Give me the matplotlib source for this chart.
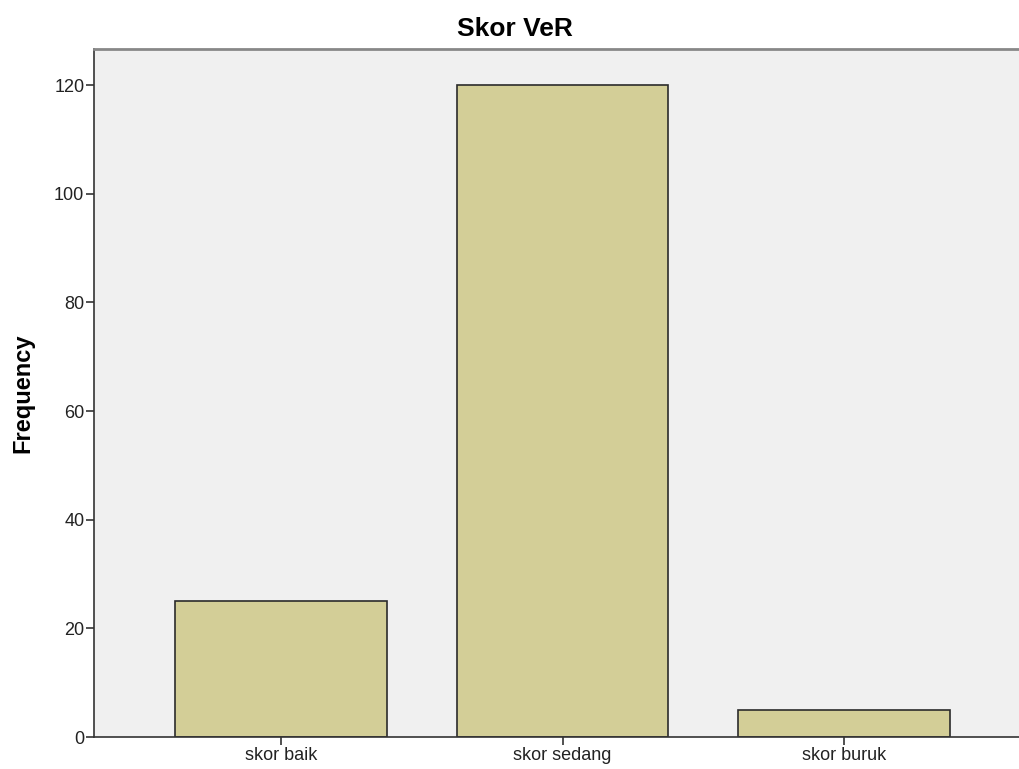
import matplotlib
matplotlib.use("Agg")
import matplotlib.pyplot as plt

categories = ["skor baik", "skor sedang", "skor buruk"]
frequency = [25, 120, 5]
yticks = [0, 20, 40, 60, 80, 100, 120]

plt.rcParams['font.family'] = ['Liberation Sans', 'DejaVu Sans']

fig = plt.figure(figsize=(10.2, 7.69), dpi=100)
ax = fig.add_axes([0.0922, 0.0416, 0.9078, 0.8944])
ax.set_facecolor('#F0F0F0')

x = list(range(len(categories)))
ax.bar(x, frequency, width=0.75, color='#D3CE97', edgecolor='#2b2b2b', linewidth=1.2, zorder=2)

ax.set_xlim(-0.664, 2.625)
ax.set_ylim(0, 126.6)
ax.set_xticks(x)
ax.set_xticklabels(categories, fontsize=13, color='#222222')
ax.set_yticks(yticks)
ax.set_yticklabels([str(v) for v in yticks], fontsize=13, color='#222222')
ax.tick_params(axis='both', direction='out', length=6, width=1.2, color='#333333', pad=1)

ax.spines['right'].set_visible(False)
ax.spines['top'].set_color('#888888')
ax.spines['top'].set_linewidth(2)
ax.spines['left'].set_color('#333333')
ax.spines['bottom'].set_color('#333333')
ax.spines['left'].set_linewidth(1.2)
ax.spines['bottom'].set_linewidth(1.2)

ax.set_ylabel("Frequency", fontsize=17, fontweight='bold', labelpad=14)
fig.suptitle("Skor VeR", x=0.505, y=0.978, fontsize=19, fontweight='bold')

fig.savefig("out.png", dpi=100)
